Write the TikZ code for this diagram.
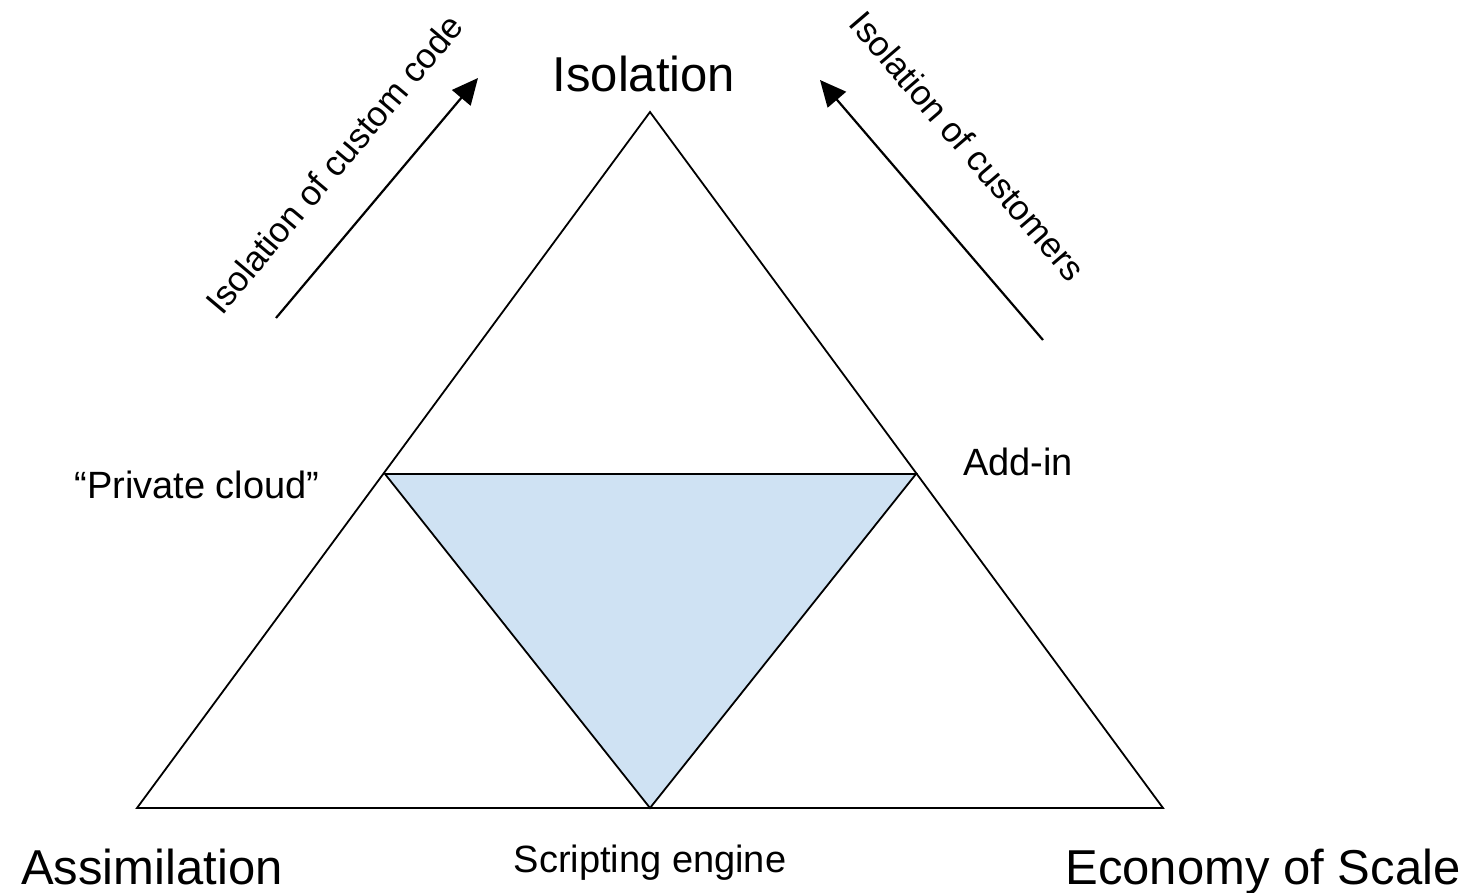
\documentclass[tikz,border=0pt]{standalone}
\usepackage{fontspec}
\setmainfont{Liberation Sans}
\usetikzlibrary{arrows.meta}
\definecolor{innerfill}{HTML}{CFE2F3}
\begin{document}
\begin{tikzpicture}[x=1pt,y=-1pt,
  bigtext/.style={inner sep=0pt,anchor=base,font=\fontsize{49}{58}\selectfont},
  smalltext/.style={inner sep=0pt,anchor=base,font=\fontsize{38}{46}\selectfont},
  slanttext/.style={inner sep=0pt,font=\fontsize{35}{42}\selectfont},
  edge/.style={line width=1.8pt,line join=miter},
  trend/.style={line width=2.2pt,-{Triangle[length=26pt,width=24pt]}}]
\useasboundingbox (0,0) rectangle (1473,893);
% corners of the outer triangle and of the shaded middle one
\coordinate (top) at (650,112);
\coordinate (bl) at (137,808);
\coordinate (br) at (1163,808);
\coordinate (ml) at (385,474);
\coordinate (mr) at (916,474);
\coordinate (mb) at (650,808);
\fill[innerfill] (ml) -- (mr) -- (mb) -- cycle;
\draw[edge] (top) -- (br) -- (bl) -- cycle;
\draw[edge] (ml) -- (mr) -- (mb) -- cycle;
% corner labels
\node[bigtext] (iso) at (644,92) {Isolation};
\node[bigtext] (assim) at (152,884) {Assimilation};
\node[bigtext] (econ) at (1263,884) {Economy of Scale};
\node[smalltext] (script) at (650,872) {Scripting engine};
\node[smalltext] (priv) at (197,498) {“Private cloud”};
\node[smalltext] (addin) at (1018,475) {Add-in};
% trend arrows with their captions
\coordinate (la) at (276,318);
\coordinate (lb) at (478,78);
\coordinate (ra) at (1043,340);
\coordinate (rb) at (820,80);
\draw[trend] (la) -- (lb);
\draw[trend] (ra) -- (rb);
\node[slanttext,rotate=49.9] (lcap) at (334,164) {Isolation of custom code};
\node[slanttext,rotate=-49.4] (rcap) at (968,146) {Isolation of customers};
\end{tikzpicture}
\end{document}
